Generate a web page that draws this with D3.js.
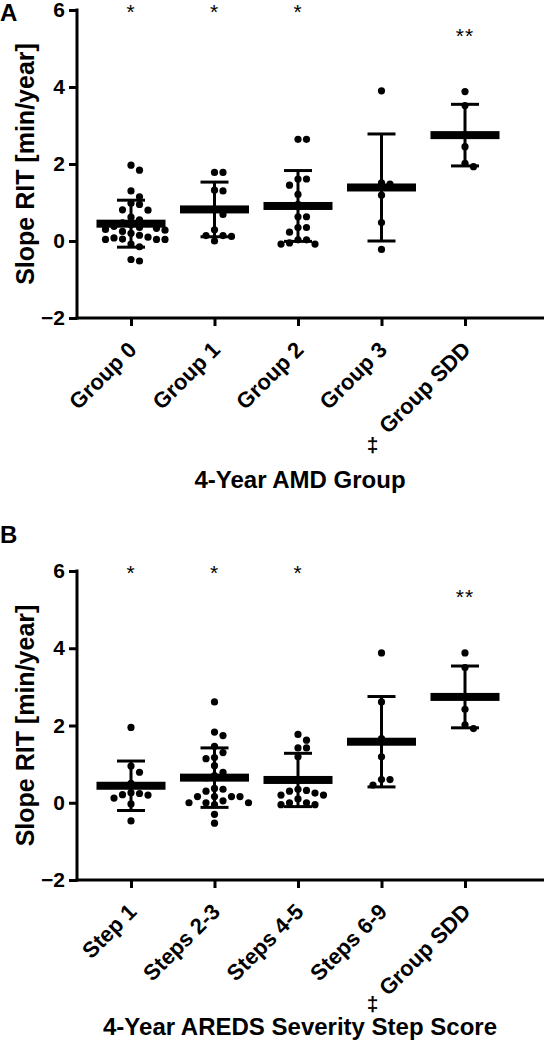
<!DOCTYPE html>
<html>
<head>
<meta charset="utf-8">
<script src="https://cdn.jsdelivr.net/npm/d3@7/dist/d3.min.js"></script>
<style>
  html, body { margin: 0; padding: 0; background: #fff; }
  svg { display: block; font-family: "Liberation Sans", Arial, sans-serif; }
</style>
</head>
<body>
<svg id="chart" width="544" height="1050"></svg>
<script>
// ---------- DATA ----------
const categoriesA = ["Group 0", "Group 1", "Group 2", "Group 3", "Group SDD"];
const pointsA_group0 = [1.97, 1.84, 1.30, 1.15, 0.98, 0.95, 0.80, 0.81, 0.62, 0.55, 0.47, 0.45, 0.42, 0.38, 0.35, 0.33, 0.30, 0.28, 0.25, 0.20, 0.15, 0.10, 0.05, 0.04, 0.04, 0.08, 0.04, -0.08, -0.15, -0.48, -0.52];
const pointsA_group1 = [1.78, 1.78, 1.32, 1.30, 0.83, 0.69, 0.29, 0.14, 0.14, 0.12, 0.00];
const pointsA_group2 = [2.64, 2.64, 1.61, 1.61, 1.45, 1.21, 0.95, 0.63, 0.63, 0.35, 0.35, 0.23, 0.03, -0.08, -0.08, -0.05, 0.03];
const pointsA_group3 = [3.90, 1.51, 1.48, 1.19, 0.48, -0.22];
const pointsA_sdd = [3.88, 3.52, 2.45, 1.93, 2.02];
const meansA = [0.45, 0.82, 0.91, 1.39, 2.75];
const sdsA = [0.61, 0.71, 0.92, 1.39, 0.80];
const sigA = ["*", "*", "*", "", "**"];

const categoriesB = ["Step 1", "Steps 2-3", "Steps 4-5", "Steps 6-9", "Group SDD"];
const pointsB_step1 = [1.95, 0.95, 0.79, 0.50, 0.26, 0.24, 0.21, 0.20, 0.12, -0.03, -0.47];
const pointsB_steps23 = [2.61, 1.83, 1.74, 1.46, 1.30, 1.17, 1.14, 0.96, 0.79, 0.70, 0.65, 0.37, 0.35, 0.30, 0.16, 0.16, 0.16, 0.16, 0.05, 0.00, 0.00, 0.00, -0.05, -0.30, -0.53];
const pointsB_steps45 = [1.77, 1.62, 1.42, 1.42, 1.19, 0.35, 0.30, 0.25, 0.32, 0.20, 0.20, 0.00, -0.05, -0.05, 0.00, 0.10];
const pointsB_steps69 = [3.88, 2.61, 1.66, 1.19, 0.60, 0.60, 0.46];
const pointsB_sdd = [3.88, 3.50, 2.42, 1.92, 2.02];
const meansB = [0.44, 0.65, 0.59, 1.58, 2.74];
const sdsB = [0.64, 0.77, 0.69, 1.17, 0.80];
const sigB = ["*", "*", "*", "", "**"];

const sigLevels = [6, 6, 6, null, 5.38];
const yTicks = [-2, 0, 2, 4, 6];
const yTitle = "Slope RIT [min/year]";
const xTitleA = "4-Year AMD Group";
const xTitleB = "4-Year AREDS Severity Step Score";
const daggerMark = "\u2021";

// ---------- DRAW ----------
const svg = d3.select("#chart");
const FONT = "'Liberation Sans', Arial, sans-serif";

function swarm(values, y, spacing, minDist) {
  const placed = [];
  const sorted = values.map((v, i) => ({ v, i })).sort((a, b) => b.v - a.v);
  sorted.forEach(p => {
    const py = y(p.v);
    for (let k = 0; k < 40; k++) {
      const off = k === 0 ? 0 : (k % 2 === 1 ? 1 : -1) * Math.ceil(k / 2) * spacing;
      const ok = placed.every(q => Math.hypot(q.dx - off, q.py - py) >= minDist);
      if (ok) { placed.push({ v: p.v, dx: off, py }); break; }
    }
  });
  return placed;
}

function drawPanel(cfg) {
  const g = svg.append("g");
  const y = d3.scaleLinear().domain([-2, 6]).range([cfg.yBottom, cfg.yTop]);
  const x = d3.scalePoint().domain(cfg.cats).range([131, 465]);
  const axisX = 77;
  const y0 = y(-2);

  // panel letter
  g.append("text").attr("x", 0).attr("y", cfg.letterY)
    .attr("font-family", FONT).attr("font-weight", "bold").attr("font-size", 24)
    .text(cfg.letter);

  // y axis
  const ya = g.append("g").attr("transform", `translate(${axisX},0)`)
    .call(d3.axisLeft(y).tickValues(yTicks).tickSize(8).tickSizeOuter(0).tickPadding(4).tickFormat(d3.format("d")));
  ya.select(".domain").remove();
  ya.selectAll(".tick line").attr("stroke", "#000").attr("stroke-width", 3);
  ya.selectAll(".tick text").attr("font-family", FONT).attr("font-weight", "bold").attr("font-size", 21).attr("fill", "#000");
  g.append("line").attr("x1", axisX).attr("x2", axisX).attr("y1", y(6) - 1.5).attr("y2", y0 + 1.5)
    .attr("stroke", "#000").attr("stroke-width", 3);

  // x axis
  const xa = g.append("g").attr("transform", `translate(0,${y0})`)
    .call(d3.axisBottom(x).tickSize(8).tickSizeOuter(0).tickFormat(""));
  xa.select(".domain").remove();
  xa.selectAll(".tick line").attr("stroke", "#000").attr("stroke-width", 3);
  g.append("line").attr("x1", axisX - 1.5).attr("x2", 544).attr("y1", y0).attr("y2", y0)
    .attr("stroke", "#000").attr("stroke-width", 3);

  // x tick labels rotated
  g.selectAll(".xlab").data(cfg.cats).enter().append("text")
    .attr("class", "xlab")
    .attr("transform", d => `translate(${x(d) + 7},${y0 + 33}) rotate(-45)`)
    .attr("text-anchor", "end")
    .attr("font-family", FONT).attr("font-weight", "bold").attr("font-size", 22)
    .text(d => d);

  // dagger
  g.append("text").attr("x", x(cfg.cats[3]) - 9).attr("y", y0 + cfg.daggerDy)
    .attr("text-anchor", "middle")
    .attr("font-family", FONT).attr("font-weight", "bold").attr("font-size", 21)
    .text(daggerMark);

  // x title
  g.append("text").attr("x", 300).attr("y", cfg.xTitleY)
    .attr("text-anchor", "middle")
    .attr("font-family", FONT).attr("font-weight", "bold").attr("font-size", 24)
    .text(cfg.xTitle);

  // y title
  g.append("text").attr("transform", `translate(34,${(y(6) + y0) / 2}) rotate(-90)`)
    .attr("text-anchor", "middle")
    .attr("font-family", FONT).attr("font-weight", "bold").attr("font-size", 25)
    .text(yTitle);

  // groups
  cfg.cats.forEach((c, i) => {
    const cx = x(c);
    const m = cfg.means[i], s = cfg.sds[i];
    const gg = g.append("g");
    const sw = swarm(cfg.points[i], y, 8.5, 7.5);
    gg.selectAll("circle").data(sw).enter().append("circle")
      .attr("cx", d => cx + d.dx).attr("cy", d => d.py).attr("r", 3.6).attr("fill", "#000");
    gg.append("line").attr("x1", cx).attr("x2", cx).attr("y1", y(m + s)).attr("y2", y(m - s))
      .attr("stroke", "#000").attr("stroke-width", 3);
    [m + s, m - s].forEach(v => {
      gg.append("line").attr("x1", cx - 14).attr("x2", cx + 14).attr("y1", y(v)).attr("y2", y(v))
        .attr("stroke", "#000").attr("stroke-width", 3);
    });
    gg.append("rect").attr("x", cx - 34.5).attr("width", 69).attr("y", y(m) - 4).attr("height", 8).attr("fill", "#000");
    if (cfg.sigs[i]) {
      gg.append("text").attr("x", cx).attr("y", y(sigLevels[i]) + 9)
        .attr("text-anchor", "middle")
        .attr("font-family", FONT).attr("font-size", 21).attr("letter-spacing", 1)
        .text(cfg.sigs[i]);
    }
  });
}

drawPanel({
  letter: "A", letterY: 21, cats: categoriesA,
  points: [pointsA_group0, pointsA_group1, pointsA_group2, pointsA_group3, pointsA_sdd],
  means: meansA, sds: sdsA, sigs: sigA,
  yTop: 10, yBottom: 318, xTitle: xTitleA, xTitleY: 488, daggerDy: 134
});
drawPanel({
  letter: "B", letterY: 543, cats: categoriesB,
  points: [pointsB_step1, pointsB_steps23, pointsB_steps45, pointsB_steps69, pointsB_sdd],
  means: meansB, sds: sdsB, sigs: sigB,
  yTop: 571, yBottom: 880, xTitle: xTitleB, xTitleY: 1035, daggerDy: 131
});
</script>
</body>
</html>
